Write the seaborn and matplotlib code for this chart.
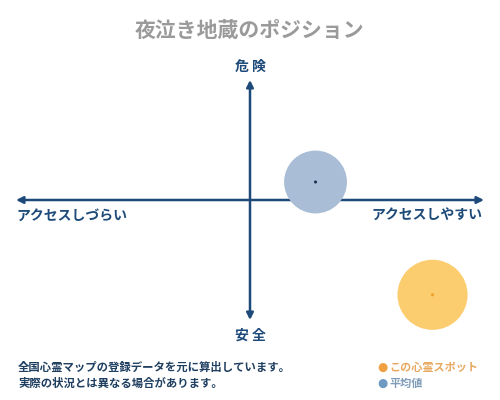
import matplotlib.pyplot as plt
import seaborn as sns
import pandas as pd

# positions on the access / danger map (-1 .. 1)
labels = ['平均値', 'この心霊スポット']
access = [0.28, 0.78]
danger = [0.15, -0.79]
sizes = [2050, 2550]

title = '夜泣き地蔵のポジション'
note_lines = ['全国心霊マップの登録データを元に算出しています。',
              '実際の状況とは異なる場合があります。']

sns.set_theme(style='white')
plt.rcParams['font.family'] = ['Noto Sans CJK JP', 'DejaVu Sans']

df = pd.DataFrame({'label': labels, 'x': access, 'y': danger, 's': sizes})

navy = '#1d4a78'
fill = {'平均値': '#a9bdd6', 'この心霊スポット': '#fccd6e'}
dot = {'平均値': '#1d3550', 'この心霊スポット': '#f0a02a'}

fig = plt.figure(figsize=(5, 4), dpi=100)
fig.patch.set_facecolor('white')
ax = fig.add_axes([16 / 500, 0.2, 468 / 500, 0.6])
ax.set_xlim(-1, 1)
ax.set_ylim(-1, 1)
ax.axis('off')

sns.scatterplot(data=df, x='x', y='y', hue='label', palette=fill, size='s',
                sizes=(min(sizes), max(sizes)), linewidth=0, legend=False, ax=ax, zorder=2)
sns.scatterplot(data=df, x='x', y='y', hue='label', palette=dot, s=5,
                linewidth=0, legend=False, ax=ax, zorder=3)
for coll in ax.collections:
    coll.set_clip_on(False)

arrow = dict(arrowstyle='-|>', color=navy, lw=1.8, mutation_scale=10, shrinkA=0, shrinkB=0)
ax.annotate('', xy=(1, 0), xytext=(0, 0), arrowprops=arrow, zorder=1)
ax.annotate('', xy=(-1, 0), xytext=(0, 0), arrowprops=arrow, zorder=1)
ax.annotate('', xy=(0, 1), xytext=(0, 0), arrowprops=arrow, zorder=1)
ax.annotate('', xy=(0, -1), xytext=(0, 0), arrowprops=arrow, zorder=1)

fig.text(0.5, 1 - 30 / 400, title, ha='center', va='center', fontsize=15,
         color='#9a9a9a', fontweight='bold')
fig.text(0.5, 1 - 67 / 400, '危 険', ha='center', va='center', fontsize=10,
         color=navy, fontweight='bold')
fig.text(0.5, 1 - 336 / 400, '安 全', ha='center', va='center', fontsize=10,
         color=navy, fontweight='bold')
fig.text(16 / 500, 1 - 216 / 400, 'アクセスしづらい', ha='left', va='center',
         fontsize=10, color=navy, fontweight='bold')
fig.text(482 / 500, 1 - 216 / 400, 'アクセスしやすい', ha='right', va='center',
         fontsize=10, color=navy, fontweight='bold')

fig.text(18 / 500, 1 - 367 / 400, note_lines[0], ha='left', va='center',
         fontsize=8.2, color='#1f3f60', fontweight='bold')
fig.text(18 / 500, 1 - 383 / 400, note_lines[1], ha='left', va='center',
         fontsize=8.2, color='#1f3f60', fontweight='bold')

fig.text(377 / 500, 1 - 367 / 400, '●', ha='left', va='center', fontsize=8.5,
         color='#f0a040', family=['DejaVu Sans'])
fig.text(389 / 500, 1 - 367 / 400, labels[1], ha='left', va='center', fontsize=8,
         color='#e8a860', fontweight='bold')
fig.text(377 / 500, 1 - 383 / 400, '●', ha='left', va='center', fontsize=8.5,
         color='#6f9bc2', family=['DejaVu Sans'])
fig.text(389 / 500, 1 - 383 / 400, labels[0], ha='left', va='center', fontsize=8,
         color='#7f9cb8', fontweight='bold')

fig.savefig('out.png', dpi=100, facecolor='white')
